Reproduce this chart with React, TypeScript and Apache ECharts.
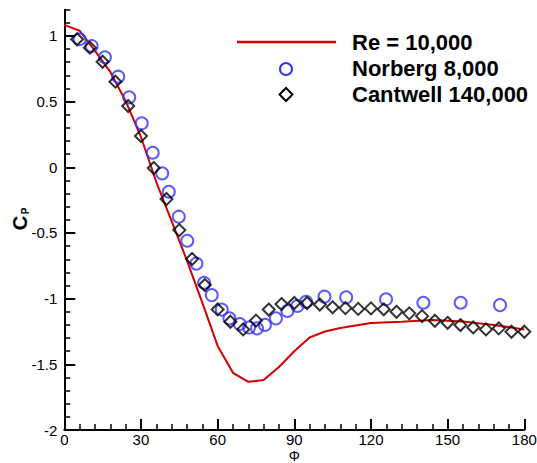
import React, { useEffect, useRef } from "react";
import * as echarts from "echarts";

// Present simulation, Re = 10,000 (red line)
const simPhi = [0, 6, 12, 18, 24, 30, 36, 42, 48, 54, 60, 66, 72, 78, 84, 90, 96, 102, 108, 114, 120, 132, 144, 156, 168, 180];
const simCp = [1.084, 1.04, 0.886, 0.726, 0.505, 0.231, -0.112, -0.41, -0.71, -1.03, -1.36, -1.565, -1.633, -1.62, -1.52, -1.4, -1.296, -1.25, -1.224, -1.205, -1.186, -1.175, -1.163, -1.174, -1.2, -1.235];

// Norberg 8,000 (blue circles)
const norbergPhi = [6, 10.7, 15.9, 21.1, 25.4, 30.3, 34.6, 38.3, 40.9, 44.8, 48.1, 51.7, 54.7, 57.7, 61.6, 64.6, 68.7, 72.3, 75.4, 78.5, 82.8, 87.3, 91.2, 94.6, 101.8, 110.3, 125.9, 140.5, 155.1, 170.5];
const norbergCp = [0.975, 0.924, 0.838, 0.69, 0.533, 0.335, 0.111, -0.046, -0.186, -0.376, -0.559, -0.733, -0.879, -0.973, -1.083, -1.15, -1.193, -1.22, -1.226, -1.2, -1.15, -1.094, -1.056, -1.024, -0.985, -0.99, -1.005, -1.031, -1.031, -1.049];

// Cantwell 140,000 (black diamonds)
const cantwellPhi = [5, 10, 15, 20, 25, 30, 35, 40, 45, 50, 55, 60, 65, 70, 75, 80, 85, 90, 95, 100, 105, 110, 115, 120, 125, 130, 135, 140, 145, 150, 155, 160, 165, 170, 175, 180];
const cantwellCp = [0.975, 0.911, 0.804, 0.652, 0.467, 0.238, -0.005, -0.241, -0.478, -0.698, -0.896, -1.082, -1.176, -1.234, -1.167, -1.083, -1.041, -1.033, -1.033, -1.045, -1.066, -1.072, -1.078, -1.074, -1.081, -1.1, -1.112, -1.133, -1.168, -1.184, -1.201, -1.219, -1.234, -1.226, -1.252, -1.252];

const legendLabels = ["Re = 10,000", "Norberg 8,000", "Cantwell 140,000"];
const yMajorTicks = [-2, -1.5, -1, -0.5, 0, 0.5, 1];
const xTitle = "Φ";

const FONT = "'Liberation Sans', Arial, Helvetica, sans-serif";
const RED = "#d40000";
const BLUE = "#3333ff";

export default function App() {
  const ref = useRef<HTMLDivElement>(null);
  useEffect(() => {
    if (!ref.current) return;
    const chart = echarts.init(ref.current, null, { renderer: "svg" });
    const zip = (a: number[], b: number[]) => a.map((v, i) => [v, b[i]]);
    const gridLeft = 64.3;
    const gridTop = 9.7;
    const gridRight = 537 - 524.3;
    const gridBottom = 463 - 430;
    chart.setOption({
      animation: false,
      backgroundColor: "#ffffff",
      grid: {
        left: gridLeft,
        top: gridTop,
        right: gridRight,
        bottom: gridBottom,
        containLabel: false,
        outerBoundsMode: "none",
      },
      xAxis: {
        type: "value",
        min: 0,
        max: 180,
        interval: 30,
        axisLine: { show: true, onZero: false, lineStyle: { color: "#000", width: 2 } },
        axisTick: { show: true, inside: true, length: 11, lineStyle: { color: "#000", width: 2 } },
        minorTick: { show: true, splitNumber: 5, length: 6, lineStyle: { color: "#000", width: 1.5 } },
        axisLabel: { fontFamily: FONT, fontSize: 15, lineHeight: 15, color: "#000", margin: 2 },
        splitLine: { show: false },
        minorSplitLine: { show: false },
      },
      yAxis: [
        {
          type: "value",
          min: -2,
          max: 1.2,
          interval: 0.5,
          position: "left",
          axisLine: { show: true, onZero: false, lineStyle: { color: "#000", width: 2 } },
          axisTick: { show: true, inside: true, length: 11, customValues: yMajorTicks, lineStyle: { color: "#000", width: 2 } },
          axisLabel: { fontFamily: FONT, fontSize: 15, color: "#000", margin: 7, customValues: yMajorTicks },
          splitLine: { show: false },
        },
        {
          type: "value",
          min: -2,
          max: 1.2,
          interval: 0.1,
          position: "left",
          offset: 0,
          axisLine: { show: false },
          axisTick: { show: true, inside: true, length: 6, lineStyle: { color: "#000", width: 1.5 } },
          axisLabel: { show: false },
          splitLine: { show: false },
        },
      ],
      series: [
        {
          type: "line",
          data: zip(simPhi, simCp),
          yAxisIndex: 0,
          showSymbol: false,
          symbol: "none",
          lineStyle: { color: RED, width: 2 },
          z: 2,
        },
        {
          type: "scatter",
          data: zip(norbergPhi, norbergCp),
          yAxisIndex: 0,
          symbol: "circle",
          symbolSize: 12,
          itemStyle: { color: "rgba(0,0,0,0)", borderColor: BLUE, borderWidth: 2 },
          z: 3,
        },
        {
          type: "scatter",
          data: zip(cantwellPhi, cantwellCp),
          yAxisIndex: 0,
          symbol: "diamond",
          symbolSize: [12, 12],
          itemStyle: { color: "rgba(0,0,0,0)", borderColor: "#000", borderWidth: 2 },
          z: 4,
        },
      ],
      graphic: [
        {
          type: "line",
          shape: { x1: 237, y1: 42, x2: 336, y2: 42 },
          style: { stroke: RED, lineWidth: 2.5 },
        },
        {
          type: "circle",
          shape: { cx: 286, cy: 69, r: 6 },
          style: { fill: "none", stroke: BLUE, lineWidth: 2 },
        },
        {
          type: "polygon",
          shape: { points: [[286, 88], [292.5, 94.5], [286, 101], [279.5, 94.5]] },
          style: { fill: "none", stroke: "#000", lineWidth: 2 },
        },
        ...legendLabels.map((t, i) => ({
          type: "text",
          x: 352,
          y: [42.5, 68.5, 94][i],
          style: {
            text: t,
            fontFamily: FONT,
            fontSize: 22,
            fontWeight: "bold",
            fill: "#000",
            verticalAlign: "middle",
            align: "left",
          },
        })),
        {
          type: "text",
          x: 294.3,
          y: 463,
          style: {
            text: xTitle,
            fontFamily: FONT,
            fontSize: 14,
            lineHeight: 14,
            fill: "#000",
            align: "center",
            verticalAlign: "bottom",
          },
        },
        {
          type: "text",
          x: 20,
          y: 223,
          rotation: Math.PI / 2,
          style: {
            text: "C",
            fontFamily: FONT,
            fontSize: 20,
            fontWeight: "bold",
            fill: "#000",
            align: "center",
            verticalAlign: "middle",
          },
        },
        {
          type: "text",
          x: 25,
          y: 211,
          rotation: Math.PI / 2,
          style: {
            text: "P",
            fontFamily: FONT,
            fontSize: 10,
            fontWeight: "bold",
            fill: "#000",
            align: "center",
            verticalAlign: "middle",
          },
        },
      ],
    });
    return () => chart.dispose();
  }, []);
  return <div ref={ref} style={{ position: "fixed", left: 0, top: 0, width: 537, height: 463 }} />;
}
